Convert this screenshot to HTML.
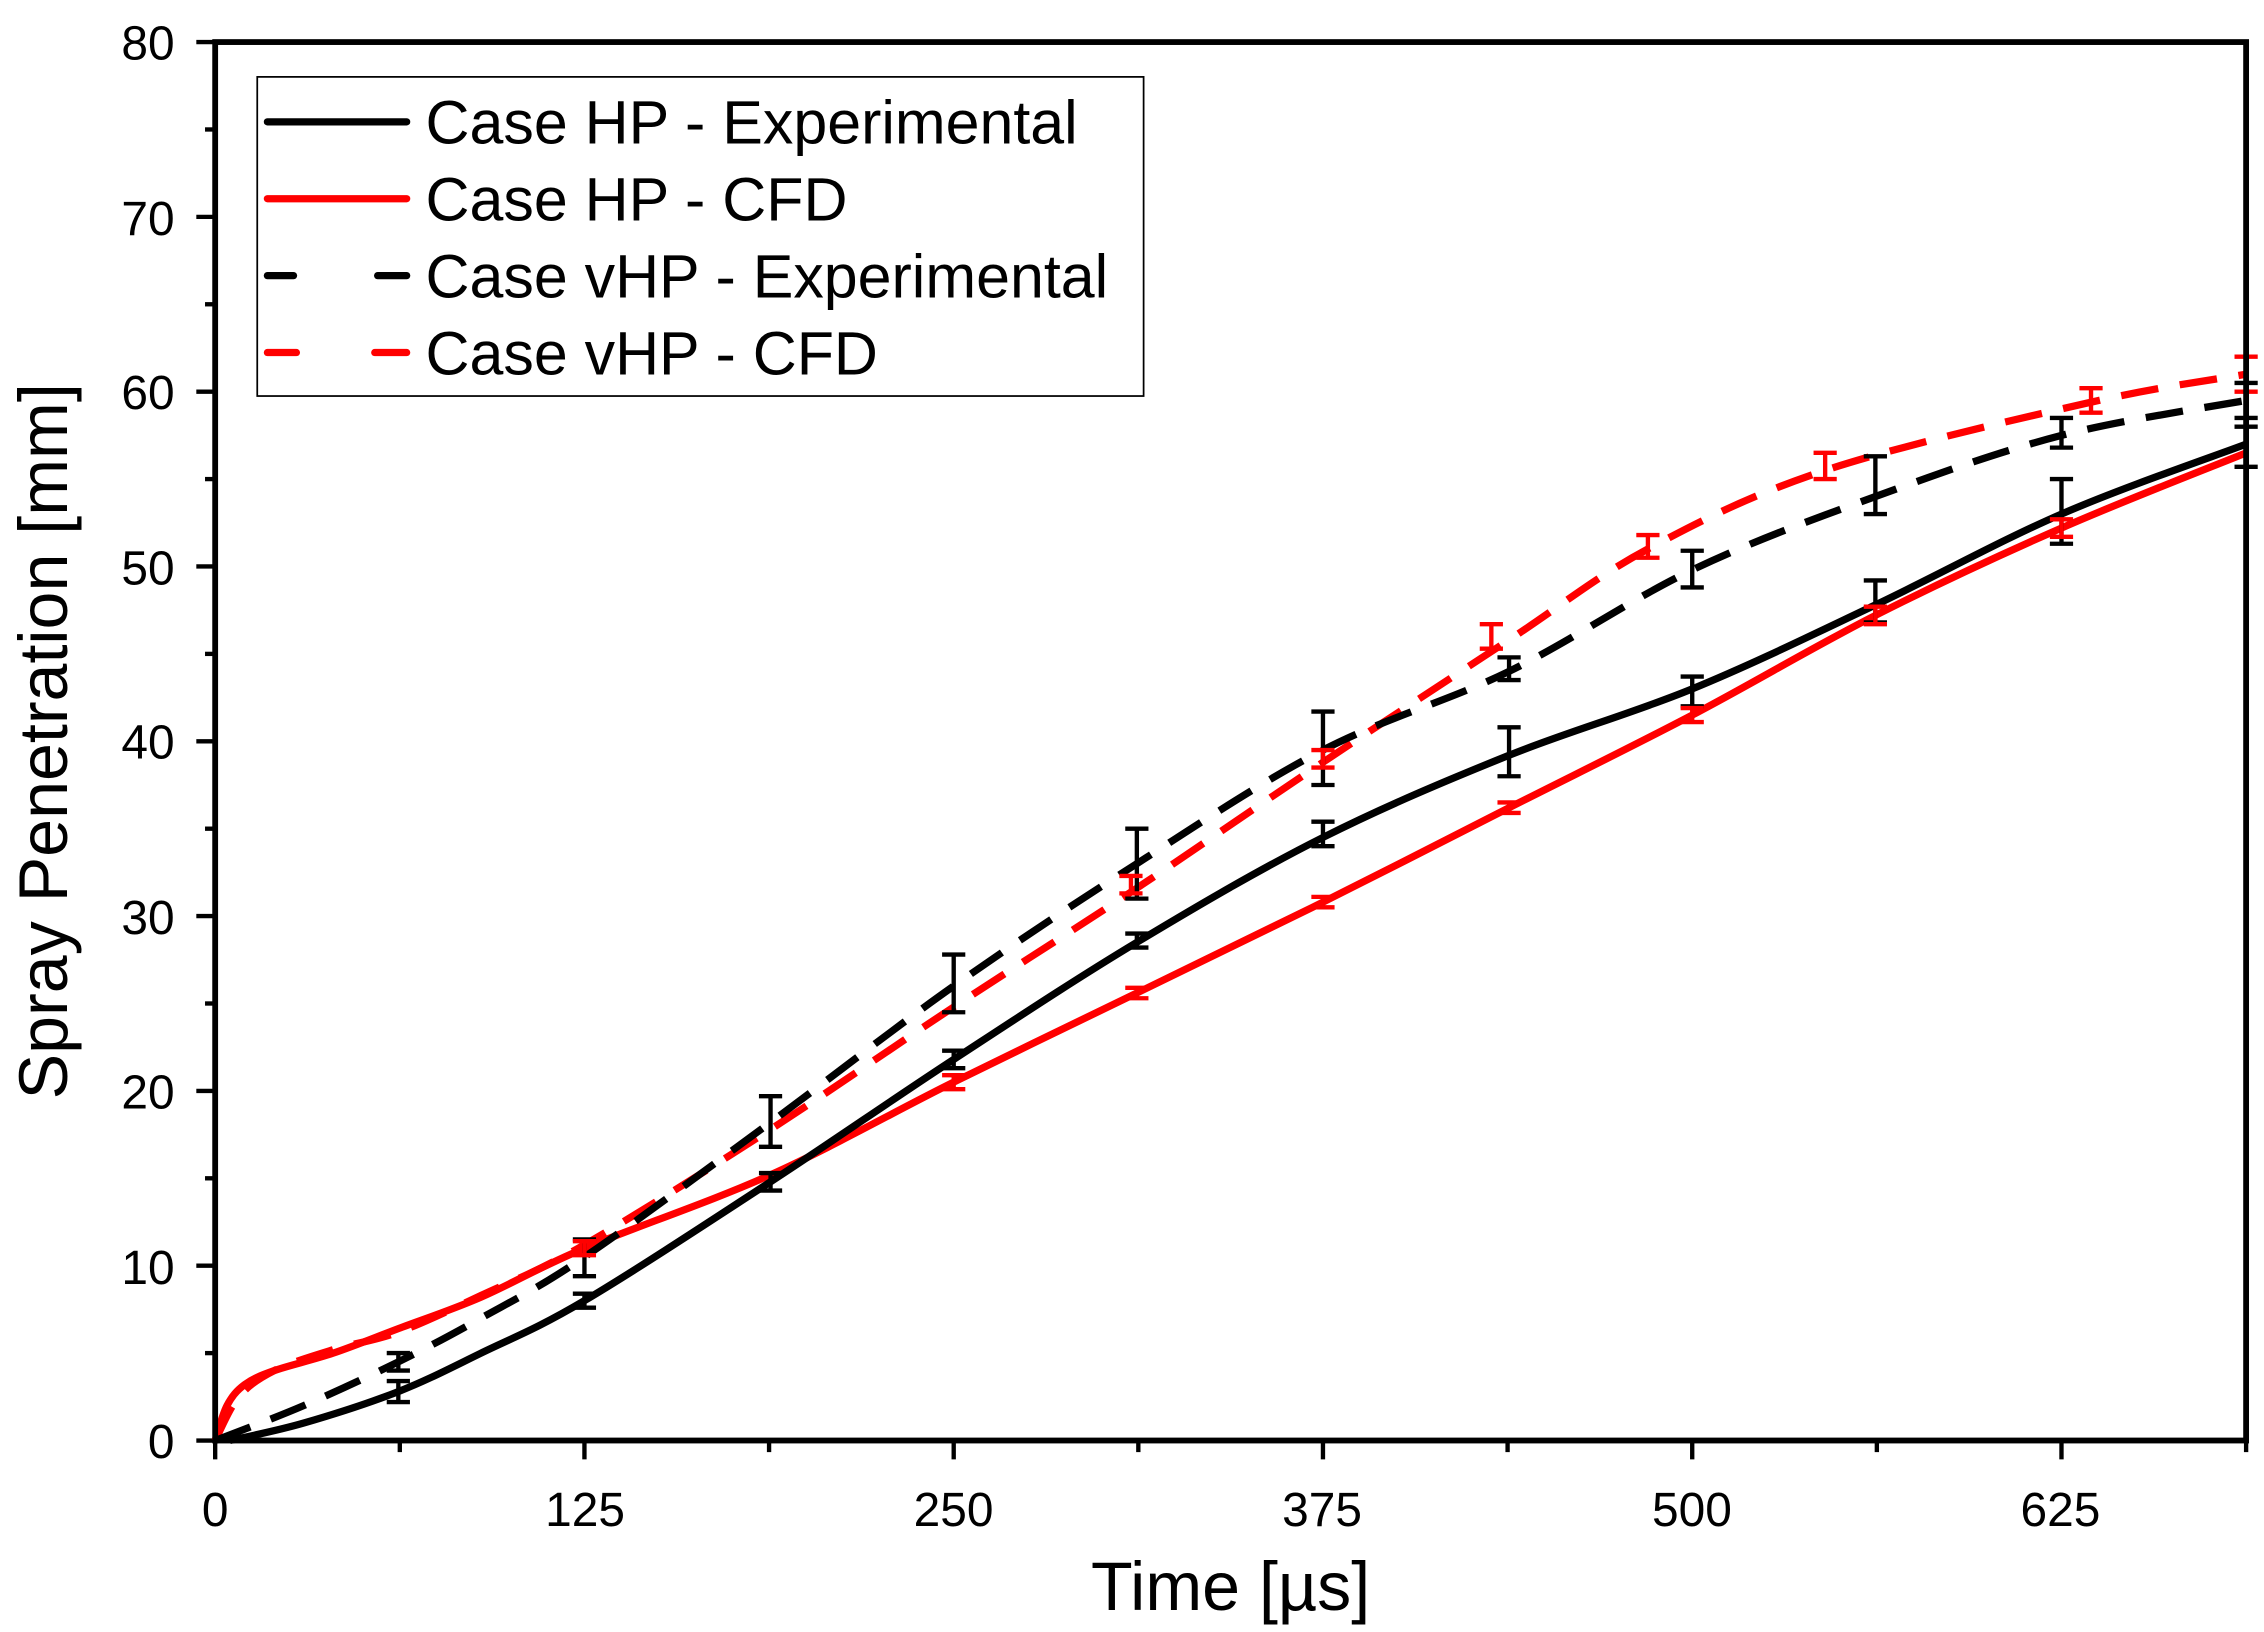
<!DOCTYPE html>
<html><head><meta charset="utf-8"><style>
html,body{margin:0;padding:0;background:#fff;}
svg{display:block;}
text{font-family:"Liberation Sans",Arial,sans-serif;}
</style></head><body>
<svg id="s" width="2264" height="1632" viewBox="0 0 1560 1125" xmlns="http://www.w3.org/2000/svg">
<rect width="1560" height="1125" fill="#fff"/>
<g id="ticks"></g>
<g id="curves" fill="none" stroke-linecap="butt" stroke-linejoin="round"></g>
<g id="err" stroke-width="3" fill="none"></g>
<rect x="148" y="29" width="1400" height="964" fill="none" stroke="#000" stroke-width="4"/>
<g font-size="33" text-anchor="end" fill="#000">
<text x="120" y="1005">0</text><text x="120" y="885">10</text><text x="120" y="764">20</text><text x="120" y="644">30</text><text x="120" y="523">40</text><text x="120" y="403">50</text><text x="120" y="282">60</text><text x="120" y="162">70</text><text x="120" y="41">80</text>
</g>
<g font-size="33" text-anchor="middle" fill="#000">
<text x="148" y="1052">0</text><text x="403" y="1052">125</text><text x="657" y="1052">250</text><text x="911" y="1052">375</text><text x="1166" y="1052">500</text><text x="1420" y="1052">625</text>
</g>
<text x="848" y="1110" font-size="47" text-anchor="middle">Time [µs]</text>
<text transform="translate(46,511) rotate(-90)" font-size="47" text-anchor="middle">Spray Penetration [mm]</text>
<rect x="177" y="53" width="611" height="220" fill="#fff" stroke="#000" stroke-width="1.2"/>
<g stroke-width="5" stroke-linecap="round">
<line x1="184" y1="84" x2="280" y2="84" stroke="#000"/>
<line x1="184" y1="137" x2="280" y2="137" stroke="#f00"/>
<line x1="184" y1="190" x2="202" y2="190" stroke="#000"/><line x1="260" y1="190" x2="280" y2="190" stroke="#000"/>
<line x1="184" y1="243" x2="204" y2="243" stroke="#f00"/><line x1="258" y1="243" x2="280" y2="243" stroke="#f00"/>
</g>
<g font-size="42" fill="#000" textLength="0">
<text x="293" y="99">Case HP - Experimental</text>
<text x="293" y="152">Case HP - CFD</text>
<text x="293" y="205">Case vHP - Experimental</text>
<text x="293" y="258">Case vHP - CFD</text>
</g>
</svg>
<script>
var NS="http://www.w3.org/2000/svg";
function X(t){return 148+t*1400/687.5;}
function Y(v){return 993-v*12.05;}
function el(p,n,a){var e=document.createElementNS(NS,n);for(var k in a)e.setAttribute(k,a[k]);p.appendChild(e);return e;}
var tk=document.getElementById('ticks');
for(var i=0;i<=11;i++){var t=i*62.5,x=X(t);el(tk,'line',{x1:x,y1:993,x2:x,y2:i%2==0?1006:1001,stroke:'#000','stroke-width':3});}
for(var i=0;i<=16;i++){var y=Y(i*5);el(tk,'line',{x1:148,y1:y,x2:i%2==0?135:141,y2:y,stroke:'#000','stroke-width':3});}
function path(pts){var P=pts.map(function(p){return [X(p[0]),Y(p[1])];});var d='M'+P[0][0]+','+P[0][1];
for(var i=0;i<P.length-1;i++){var p0=P[i-1]||P[i],p1=P[i],p2=P[i+1],p3=P[i+2]||P[i+1];
d+=' C'+(p1[0]+(p2[0]-p0[0])/6)+','+(p1[1]+(p2[1]-p0[1])/6)+' '+(p2[0]-(p3[0]-p1[0])/6)+','+(p2[1]-(p3[1]-p1[1])/6)+' '+p2[0]+','+p2[1];}return d;}
var cv=document.getElementById('curves');
var hpE=[[5,0],[30,1],[62,2.8],[90,5],[125,8],[188,14.8],[250,21.8],[312,28.5],[375,34.5],[438,39.2],[500,43],[562,47.8],[625,53],[687.5,57]];
var hpC=[[0,0],[4,2],[10,3.2],[20,4],[40,5],[62,6.4],[90,8.2],[125,11],[188,15.2],[250,20.5],[312,25.6],[375,30.8],[438,36.2],[500,41.5],[562,47.2],[625,52.2],[687.5,56.5]];
var vE=[[0,0],[30,2],[62,4.5],[90,7],[125,10.5],[188,18.2],[250,26],[312,33],[375,39.5],[438,44],[500,49.8],[562,54],[625,57.5],[687.5,59.5]];
var vC=[[0,0],[8,2.5],[20,4],[40,5.2],[62,6.2],[90,8.3],[125,11.2],[188,17.8],[250,24.8],[312,31.6],[375,38.8],[438,45.8],[485,51],[545,55.5],[635,59.4],[687.5,61]];
el(cv,'path',{d:path(hpC),stroke:'#f00','stroke-width':5});
el(cv,'path',{d:path(hpE),stroke:'#000','stroke-width':5});
el(cv,'path',{d:path(vC),stroke:'#f00','stroke-width':5,'stroke-dasharray':'26,15'});
el(cv,'path',{d:path(vE),stroke:'#000','stroke-width':5,'stroke-dasharray':'26,15'});
var er=document.getElementById('err');
function eb(t,a,b,c){var x=X(t);el(er,'line',{x1:x,y1:Y(a),x2:x,y2:Y(b),stroke:c});el(er,'line',{x1:x-8,y1:Y(a),x2:x+8,y2:Y(a),stroke:c});el(er,'line',{x1:x-8,y1:Y(b),x2:x+8,y2:Y(b),stroke:c});}
[[62,2.2,3.4],[125,7.6,8.4],[188,14.3,15.3],[250,21.3,22.3],[312,28.2,29],[375,34,35.4],[438,38,40.8],[500,42,43.7],[562,46.8,49.2],[625,51.3,55],[687.5,55.7,58]].forEach(function(e){eb(e[0],e[1],e[2],'#000');});
[[62,4,5],[125,9.4,11.5],[188,16.8,19.7],[250,24.5,27.8],[312,31,35],[375,37.5,41.7],[438,43.5,44.8],[500,48.8,50.9],[562,53,56.3],[625,56.8,58.5],[687.5,58.5,60.5]].forEach(function(e){eb(e[0],e[1],e[2],'#000');});
[[310,31.3,32.3],[375,38.5,39.5],[432,45.3,46.7],[485,50.5,51.8],[545,55,56.5],[635,58.8,60.2],[687.5,60,62]].forEach(function(e){eb(e[0],e[1],e[2],'#f00');});
[[125,10.6,11.4],[250,20.1,20.9],[312,25.3,25.9],[375,30.5,31.1],[438,35.9,36.5],[500,41.1,41.9],[562,46.7,47.7],[625,51.7,52.7]].forEach(function(e){eb(e[0],e[1],e[2],'#f00');});
</script>
</body></html>
